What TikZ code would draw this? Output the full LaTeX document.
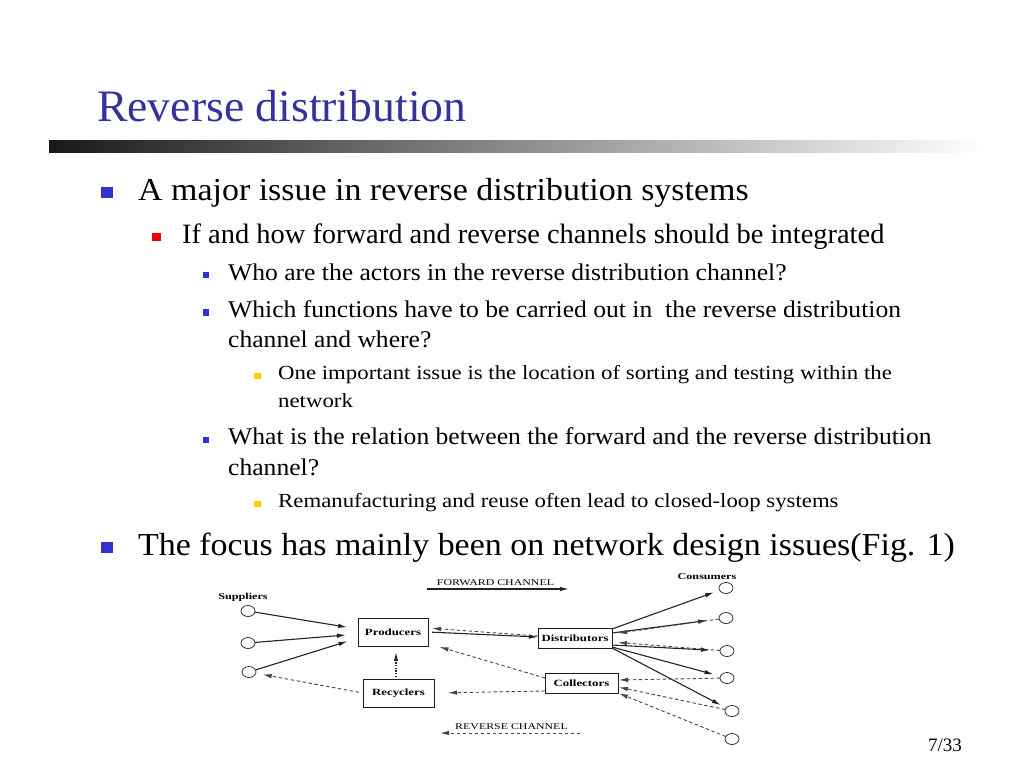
\documentclass[tikz,border=0pt]{standalone}
\usepackage{fontspec}
\setmainfont{Liberation Serif}
\newfontfamily\figfont[FakeStretch=1.35]{Liberation Serif}
\newfontfamily\titlefont[FakeStretch=1.015]{Liberation Serif}
\newfontfamily\onefont[FakeStretch=1.06]{Liberation Serif}
\newfontfamily\twofont[FakeStretch=1.016]{Liberation Serif}
\newfontfamily\threefont[FakeStretch=1.066]{Liberation Serif}
\newfontfamily\fourfont[FakeStretch=1.14]{Liberation Serif}
\usepackage{tikz}
\usetikzlibrary{arrows.meta}
\usetikzlibrary{shapes.geometric}
\pgfdeclarelayer{edgelayer}
\pgfdeclarelayer{nodelayer}
\pgfsetlayers{edgelayer,nodelayer,main}
\tikzstyle{none}=[inner sep=0pt]
\tikzstyle{slide_title}=[inner sep=0pt, anchor=base west, text={rgb,255: red,51; green,51; blue,153}, font=\titlefont\fontsize{45}{54}\selectfont]
\tikzstyle{level_one}=[inner sep=0pt, anchor=base west, font=\onefont\fontsize{32}{38}\selectfont]
\tikzstyle{level_two}=[inner sep=0pt, anchor=base west, font=\twofont\fontsize{28}{34}\selectfont]
\tikzstyle{level_three}=[inner sep=0pt, anchor=base west, font=\threefont\fontsize{24}{30}\selectfont]
\tikzstyle{level_four}=[inner sep=0pt, anchor=base west, font=\fourfont\fontsize{20}{27}\selectfont]
\tikzstyle{bullet_one}=[fill={rgb,255: red,51; green,51; blue,204}, shape=rectangle, inner sep=0pt, minimum size=11.5pt]
\tikzstyle{bullet_two}=[fill={rgb,255: red,238; green,0; blue,0}, shape=rectangle, inner sep=0pt, minimum size=8.5pt]
\tikzstyle{bullet_three}=[fill={rgb,255: red,51; green,51; blue,204}, shape=rectangle, inner sep=0pt, minimum size=6.5pt]
\tikzstyle{bullet_four}=[fill={rgb,255: red,255; green,204; blue,0}, shape=rectangle, inner sep=0pt, minimum size=6.5pt]
\tikzstyle{party_box}=[fill=white, draw={rgb,255: red,30; green,30; blue,30}, line width=1pt, shape=rectangle, inner sep=0pt, outer sep=0pt, font=\figfont\bfseries\fontsize{9.5}{11}\selectfont]
\tikzstyle{party_slot}=[draw={rgb,255: red,50; green,50; blue,50}, line width=0.8pt, shape=ellipse, inner sep=0pt, outer sep=0pt, minimum width=14pt, minimum height=11pt]
\tikzstyle{fig_label}=[inner sep=0pt, anchor=base, font=\figfont\bfseries\fontsize{9}{11}\selectfont]
\tikzstyle{channel_label}=[inner sep=0pt, anchor=base, font=\figfont\fontsize{8.8}{11}\selectfont]
\tikzstyle{forward_flow}=[-{Latex[length=9pt,width=4.5pt]}, draw={rgb,255: red,35; green,35; blue,35}, line width=1.1pt]
\tikzstyle{reverse_flow}=[-{Latex[length=9pt,width=4.5pt]}, draw={rgb,255: red,70; green,70; blue,70}, line width=0.9pt, dash pattern=on 3.5pt off 2.5pt]
\tikzstyle{recycle_flow}=[-{Latex[length=9pt,width=4.5pt]}, draw={rgb,255: red,35; green,35; blue,35}, line width=1.1pt, dash pattern=on 1.2pt off 1.5pt]

\begin{document}
\begin{tikzpicture}[x=1pt, y=-1pt]
    \useasboundingbox (0, 0) rectangle (1024, 768);
    \begin{pgfonlayer}{edgelayer}
        % title bar
        \shade [left color={rgb,255: red,25; green,25; blue,25}, right color=white] (49, 140) rectangle (985, 152);
    \end{pgfonlayer}
    \begin{pgfonlayer}{nodelayer}
        % title
        \node [style=slide_title] (40) at (97, 121) {Reverse distribution};

        % bullets
        \node [style=bullet_one] (60) at (107, 192.5) {};
        \node [style=bullet_two] (61) at (156.5, 237) {};
        \node [style=bullet_three] (62) at (206, 275) {};
        \node [style=bullet_three] (63) at (206, 312.5) {};
        \node [style=bullet_four] (64) at (257.5, 376) {};
        \node [style=bullet_three] (65) at (206, 440) {};
        \node [style=bullet_four] (66) at (257.5, 504) {};
        \node [style=bullet_one] (67) at (107, 547.5) {};

        % bullet text
        \node [style=level_one] (41) at (138, 200.5) {A major issue in reverse distribution systems};
        \node [style=level_two] (42) at (182, 243) {If and how forward and reverse channels should be integrated};
        \node [style=level_three] (43) at (228, 280) {Who are the actors in the reverse distribution channel?};
        \node [style=level_three] (44) at (228, 317) {Which functions have to be carried out in\ \ the reverse distribution};
        \node [style=level_three] (45) at (228, 347) {channel and where?};
        \node [style=level_four] (46) at (278, 379.5) {One important issue is the location of sorting and testing within the};
        \node [style=level_four] (47) at (278, 407) {network};
        \node [style=level_three] (48) at (228, 444) {What is the relation between the forward and the reverse distribution};
        \node [style=level_three] (49) at (228, 475) {channel?};
        \node [style=level_four] (50) at (278, 507) {Remanufacturing and reuse often lead to closed-loop systems};
        \node [style=level_one] (51) at (138, 555) {The focus has mainly been on network design issues(Fig. 1)};

        % page number
        \node [style=none, anchor=base east, font=\fontsize{19}{22}\selectfont] (52) at (962, 751) {7/33};

        % figure: suppliers
        \node [style=fig_label] (0) at (243, 599) {Suppliers};
        \node [style=party_slot] (1) at (248, 611) {};
        \node [style=party_slot] (2) at (248, 643) {};
        \node [style=party_slot] (3) at (249, 672) {};

        % figure: boxes
        \node [style=party_box, minimum width=70pt, minimum height=28pt] (10) at (393, 632) {Producers};
        \node [style=party_box, minimum width=71pt, minimum height=28pt] (11) at (398.5, 693) {Recyclers};
        \node [style=party_box, minimum width=74pt, minimum height=20pt] (12) at (575, 638) {Distributors};
        \node [style=party_box, minimum width=73pt, minimum height=20pt] (13) at (581.5, 683) {Collectors};

        % figure: consumers
        \node [style=fig_label] (20) at (707, 579) {Consumers};
        \node [style=party_slot] (21) at (726, 588) {};
        \node [style=party_slot] (22) at (726, 618) {};
        \node [style=party_slot] (23) at (727, 651) {};
        \node [style=party_slot] (24) at (727, 678) {};
        \node [style=party_slot] (25) at (732, 711) {};
        \node [style=party_slot] (26) at (732, 739) {};

        % figure: channel legend
        \node [style=channel_label] (34) at (495.5, 585.5) {FORWARD CHANNEL};
        \node [style=channel_label] (35) at (511.5, 729) {REVERSE CHANNEL};
        \coordinate (30) at (427, 589);
        \coordinate (31) at (569, 589);
        \coordinate (32) at (580, 733);
        \coordinate (33) at (440, 733);
    \end{pgfonlayer}
    \begin{pgfonlayer}{edgelayer}
        % forward flows
        \draw [style=forward_flow, shorten >=11pt] (1) to ([yshift=3pt]10.west);
        \draw [style=forward_flow, shorten >=12pt] (2) to ([yshift=-2pt]10.west);
        \draw [style=forward_flow, shorten >=11pt] (3) to ([yshift=-6pt]10.west);
        \draw [style=forward_flow, shorten <=4pt] (10.east) to ([yshift=1pt]12.west);
        \draw [style=forward_flow, shorten >=6pt] ([yshift=9pt]12.east) to (21);
        \draw [style=forward_flow, shorten >=12pt] ([yshift=5pt]12.east) to (22);
        \draw [style=forward_flow, shorten >=10pt] ([yshift=-7pt]12.east) to (23);
        \draw [style=forward_flow, shorten >=7pt] ([yshift=-9pt]12.east) to (24);
        \draw [style=forward_flow, shorten >=6pt] (12.south east) to (25);
        \draw [style=forward_flow] (30) to (31);

        % reverse flows
        \draw [style=reverse_flow, shorten >=4pt] ([yshift=2pt]12.west) to ([yshift=4pt]10.east);
        \draw [style=reverse_flow, shorten >=12pt] ([yshift=5pt]13.west) to ([yshift=-11.5pt]10.east);
        \draw [style=reverse_flow, shorten >=14pt] ([yshift=-8pt]13.west) to (11.east);
        \draw [style=reverse_flow, shorten <=4pt, shorten >=7pt] (11.west) to (3);
        \draw [style=reverse_flow, shorten >=6pt] (22) to ([yshift=4pt]12.east);
        \draw [style=reverse_flow, shorten >=6pt] (23) to ([yshift=-4pt]12.east);
        \draw [style=reverse_flow, shorten >=1pt] (24) to ([yshift=3pt]13.east);
        \draw [style=reverse_flow, shorten >=1pt] (25) to ([yshift=-4pt]13.east);
        \draw [style=reverse_flow, shorten >=1pt] (26) to (13.south east);
        \draw [style=reverse_flow] (32) to (33);

        % recycling
        \draw [style=recycle_flow, shorten <=2pt, shorten >=6pt] ([xshift=-2.5pt]11.north) to ([xshift=3pt]10.south);
    \end{pgfonlayer}
\end{tikzpicture}
\end{document}
